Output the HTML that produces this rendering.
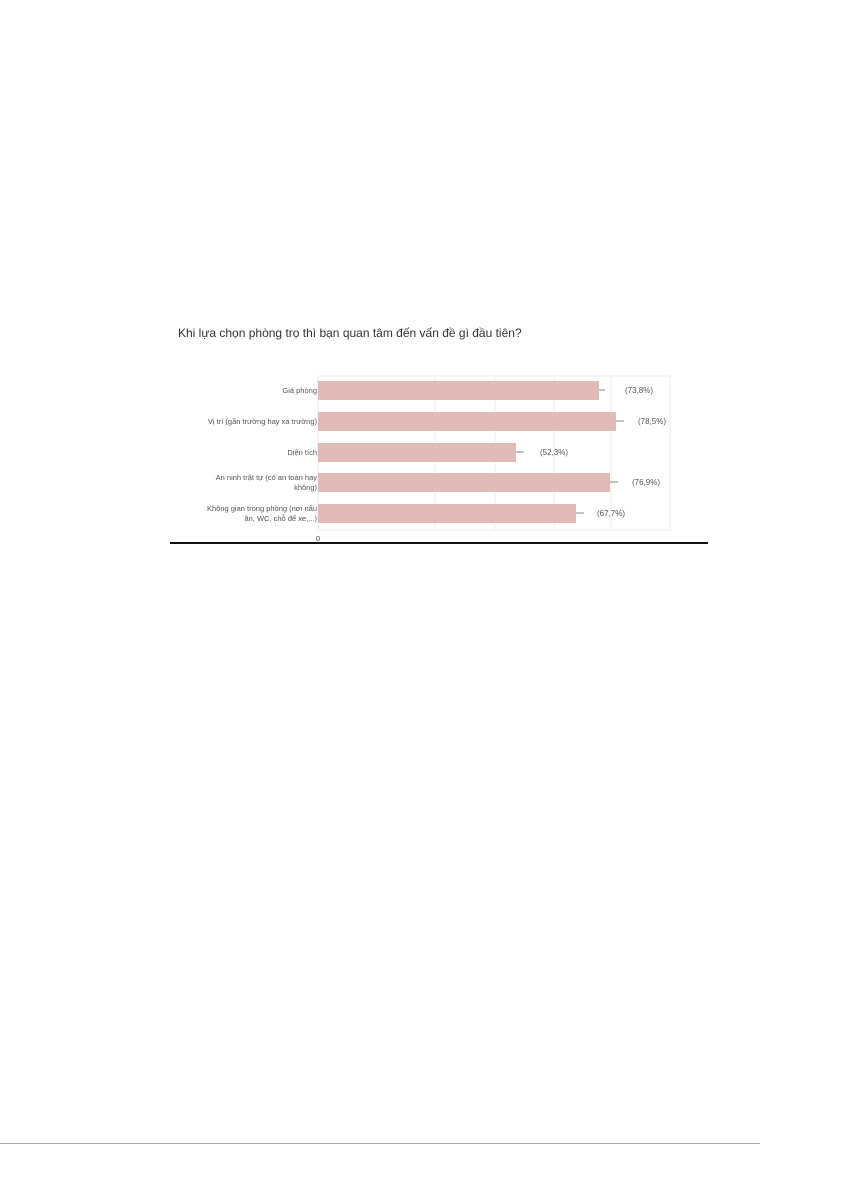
<!DOCTYPE html>
<html><head><meta charset="utf-8"><style>
body{margin:0;background:#fff;}
svg{display:block}
text{font-family:"Liberation Sans","DejaVu Sans",sans-serif;}
</style></head><body>
<svg width="841" height="1191" xmlns="http://www.w3.org/2000/svg">
<rect width="841" height="1191" fill="#fff"/>
<text x="178" y="337" font-size="12" fill="#333">Khi lựa chọn phòng trọ thì bạn quan tâm đến vấn đề gì đầu tiên?</text>
<rect x="318" y="376" width="352" height="154" fill="none" stroke="#eee"/>
<g stroke="#eee"><line x1="435" y1="376" x2="435" y2="530"/><line x1="495" y1="376" x2="495" y2="530"/><line x1="554" y1="376" x2="554" y2="530"/><line x1="611" y1="376" x2="611" y2="530"/></g>
<g fill="#dfbcb8">
<rect x="318" y="381" width="281" height="19"/>
<rect x="318" y="412" width="298" height="19"/>
<rect x="318" y="443" width="198" height="19"/>
<rect x="318" y="473" width="292" height="19"/>
<rect x="318" y="504" width="258" height="19"/>
</g>
<g stroke="#888"><line x1="599" y1="390" x2="605" y2="390"/><line x1="616" y1="421" x2="624" y2="421"/><line x1="516" y1="452" x2="524" y2="452"/><line x1="610" y1="482" x2="618" y2="482"/><line x1="576" y1="513" x2="584" y2="513"/></g>
<g font-size="8" fill="#555">
<text x="625" y="393">(73,8%)</text>
<text x="638" y="424">(78,5%)</text>
<text x="540" y="455">(52,3%)</text>
<text x="632" y="485">(76,9%)</text>
<text x="597" y="516">(67,7%)</text>
</g>
<g font-size="7.5" fill="#555" text-anchor="end">
<text x="317" y="393">Giá phòng</text>
<text x="317" y="424">Vị trí (gần trường hay xa trường)</text>
<text x="317" y="455">Diện tích</text>
<text x="317" y="480">An ninh trật tự (có an toàn hay</text>
<text x="317" y="490">không)</text>
<text x="317" y="511">Không gian trong phòng (nơi nấu</text>
<text x="317" y="521">ăn, WC, chỗ để xe,...)</text>
</g>
<text x="316" y="541" font-size="7.5" fill="#555">0</text>
<rect x="170" y="542" width="538" height="2" fill="#111"/>
<rect x="0" y="1143" width="760" height="1" fill="#aaa"/>
</svg>
</body></html>
